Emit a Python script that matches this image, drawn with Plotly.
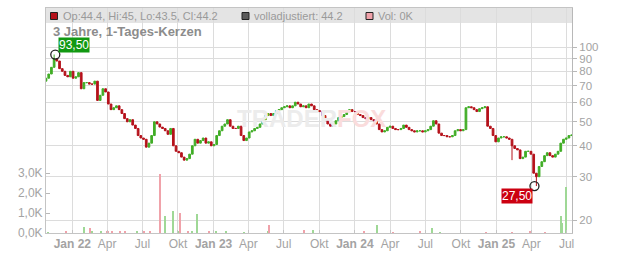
import pandas as pd
import plotly.graph_objects as go

# ---------------- data ----------------
start_date = "2021-10-25"          # first weekly candle
first_open = 73
closes = [
    75, 78, 83, 90, 88, 82, 80, 77, 76, 80,
    75, 76, 79, 68, 72, 72, 71, 71, 73, 61,
    64, 68, 66, 59, 56, 57, 58, 56, 54, 51.5,
    50, 51, 48.5, 47, 44, 43, 42.5, 39.5, 41, 44,
    50, 49, 47.6, 47, 46, 44.5, 47, 40, 38, 37.5,
    36, 35, 35.5, 37, 40, 42.5, 41, 42, 43, 41,
    41.5, 40, 40.5, 44, 46, 48, 49, 51, 48, 47,
    47, 48, 44, 42, 43, 45.5, 46, 47, 47.5, 49,
    51, 53, 54, 53, 54, 55.5, 56, 57, 57.5, 58,
    57, 58, 60, 59, 57.5, 58, 57, 59, 58, 56,
    55.5, 55, 53, 51, 49, 48, 49, 50.5, 52, 52.5,
    53.5, 55, 56, 55, 55, 53.5, 53, 52, 51.5, 52,
    51, 50.5, 49, 46.5, 45.5, 46, 47.5, 48, 47, 46.5,
    46.5, 47, 48.5, 47.5, 46.5, 46, 45.5, 46, 46, 45.5,
    46, 46.5, 48, 50.5, 49, 45, 44, 44, 43.5, 43.5,
    44, 46, 46.5, 46, 46.5, 57, 57.5, 57, 56, 55,
    56.5, 57, 57.5, 48, 47, 44, 41.5, 43, 43.5, 43.5,
    43, 42.5, 40, 39, 38.5, 35.5, 36, 38, 38, 37,
    31, 30, 33, 34.5, 36.5, 37.5, 36.5, 36, 37, 38,
    41, 42.5, 43, 44, 44.2,
]
wick_high = {"2021-11-15": 93.5}
wick_low = {"2025-02-10": 35, "2025-04-14": 27.5}

extreme_dates = ["2021-11-18", "2025-04-09"]
extreme_values = [93.5, 27.5]
extreme_labels = ["93,50", "27,50"]

vol_dates = [
    "2021-10-31", "2021-12-15", "2022-01-31", "2022-02-15", "2022-02-22",
    "2022-03-15", "2022-03-31", "2022-04-04", "2022-04-13", "2022-05-03",
    "2022-05-16", "2022-06-16", "2022-07-06", "2022-07-20", "2022-08-15",
    "2022-08-29", "2022-09-19", "2022-10-04", "2022-10-07", "2022-10-26",
    "2022-11-07", "2022-11-18", "2022-12-19", "2023-01-06", "2023-02-03",
    "2023-03-20", "2023-05-22", "2023-05-23", "2023-08-23", "2023-09-15",
    "2024-01-25", "2024-02-26", "2024-04-08", "2024-06-17", "2024-07-19",
    "2024-08-08", "2024-12-06", "2025-02-10", "2025-03-28", "2025-05-05",
    "2025-06-16", "2025-06-18", "2025-06-30",
]
vol_values = [
    50, 70, 320, 270, 80,
    120, 120, 120, 70, 70,
    70, 70, 70, 70, 2950,
    830, 1120, 120, 1020, 70,
    80, 950, 70, 70, 70,
    50, 120, 420, 150, 150,
    70, 420, 50, 70, 240,
    50, 50, 50, 100, 50,
    830, 500, 2300,
]
vol_up = [
    True, False, True, False, True,
    True, False, False, False, False,
    False, True, False, False, False,
    True, True, True, False, False,
    True, True, False, True, True,
    True, True, False, False, True,
    False, True, False, False, True,
    True, False, False, False, False,
    True, True, True,
]

quarter_ticks = pd.date_range("2022-01-01", "2025-07-01", freq="QS")
month_names = {1: "Jan", 4: "Apr", 7: "Jul", 10: "Okt"}
price_ticks = [20, 30, 40, 50, 60, 70, 80, 90, 100]
vol_ticks = [0, 1000, 2000, 3000]
vol_tick_text = ["0,0K", "1,0K", "2,0K", "3,0K"]

# ---------------- build ----------------
W, H = 632, 253
ML, MR, MT, MB = 46, 60, 8, 20
PW, PH = W - ML - MR, H - MT - MB
FONT = "Liberation Sans, Arial, sans-serif"


def px(x):
    return (x - ML) / PW


def py(y):
    return (H - MB - y) / PH


dates = pd.date_range(start_date, periods=len(closes), freq="7D")
opens = [first_open] + closes[:-1]
highs, lows = [], []
for d, o, c in zip(dates, opens, closes):
    key = d.strftime("%Y-%m-%d")
    highs.append(wick_high.get(key, max(o, c)))
    lows.append(wick_low.get(key, min(o, c)))

RED = "#b5121b"
GREEN = "#40ad26"

fig = go.Figure()

fig.add_trace(go.Bar(
    x=pd.to_datetime(vol_dates), y=vol_values, yaxis="y2",
    marker=dict(color=["#9fd896" if u else "#f0a2aa" for u in vol_up], line=dict(width=0)),
    width=2.6 * 86400000, showlegend=False, hoverinfo="skip",
))

fig.add_trace(go.Candlestick(
    x=dates, open=opens, high=highs, low=lows, close=closes,
    increasing=dict(line=dict(color=GREEN, width=1), fillcolor=GREEN),
    decreasing=dict(line=dict(color=RED, width=1), fillcolor=RED),
    whiskerwidth=0, showlegend=False, hoverinfo="skip",
))

fig.add_trace(go.Scatter(
    x=pd.to_datetime(extreme_dates), y=extreme_values, mode="markers",
    marker=dict(symbol="circle-open", size=9, color="#222222", line=dict(width=1.3)),
    showlegend=False, hoverinfo="skip",
))

grid = "#dcdcdc"
fig.update_layout(
    width=W, height=H,
    margin=dict(l=ML, r=MR, t=MT, b=MB, pad=0, autoexpand=False),
    paper_bgcolor="white", plot_bgcolor="rgba(0,0,0,0)",
    font=dict(family=FONT, size=12, color="#a0a0a0"),
    bargap=0, boxgap=0.1,
    xaxis=dict(
        type="date", range=["2021-10-25", "2025-07-15"], automargin=False,
        rangeslider=dict(visible=False),
        tickvals=list(quarter_ticks),
        ticktext=[(f"<b>Jan {str(d.year)[2:]}</b>" if d.month == 1 else month_names[d.month])
                  for d in quarter_ticks],
        tickfont=dict(size=12, color="#a3a3a3"),
        showgrid=True, gridcolor=grid, gridwidth=1,
        showline=True, linecolor="#c4c4c4", linewidth=1, mirror=True,
        ticks="inside", ticklen=3, tickcolor="#c4c4c4",
        zeroline=False,
    ),
    yaxis=dict(
        type="log", range=[1.2497, 2.1588], side="right", automargin=False,
        tickvals=price_ticks, ticktext=[str(v) for v in price_ticks],
        tickfont=dict(size=11.5, color="#a3a3a3"),
        showgrid=True, gridcolor=grid, gridwidth=1,
        showline=True, linecolor="#b8b8b8", linewidth=1,
        ticks="outside", ticklen=4, tickcolor="#b8b8b8",
        zeroline=False,
    ),
    yaxis2=dict(
        overlaying="y", side="left", range=[0, 11250], automargin=False,
        tickvals=vol_ticks, ticktext=vol_tick_text,
        tickfont=dict(size=12, color="#a3a3a3"),
        showgrid=False, showline=True, linecolor="#c4c4c4", linewidth=1,
        ticks="inside", ticklen=4, tickcolor="#b8b8b8",
        zeroline=False,
    ),
)

# header band
fig.add_shape(type="rect", xref="paper", yref="paper",
              x0=0, x1=1, y0=py(23), y1=py(8),
              fillcolor="#e4e4e4", line=dict(width=0), layer="below")

# legend squares
for x0, col in [(50.5, RED), (242, "#5a5a5a"), (366, "#f0a2aa")]:
    fig.add_shape(type="rect", xref="paper", yref="paper",
                  x0=px(x0), x1=px(x0 + 7), y0=py(19.5), y1=py(12.5),
                  fillcolor=col, line=dict(color="#222222", width=1), layer="above")

ann = [
    dict(text="Op:44.4, Hi:45, Lo:43.5, Cl:44.2", x=px(61), y=py(16)),
    dict(text="volladjustiert: 44.2", x=px(252), y=py(16)),
    dict(text="Vol: 0K", x=px(376), y=py(16)),
]
for a in ann:
    fig.add_annotation(xref="paper", yref="paper", xanchor="left", yanchor="middle",
                       showarrow=False, font=dict(size=11, color="#9a9a9a"), **a)

fig.add_annotation(xref="paper", yref="paper", x=px(51), y=py(31.5),
                   xanchor="left", yanchor="middle", showarrow=False,
                   text="<b>3 Jahre, 1-Tages-Kerzen</b>",
                   font=dict(size=13, color="#8c8c8c"))

# watermark
fig.add_annotation(xref="paper", yref="paper", x=px(311), y=py(118),
                   xanchor="center", yanchor="middle", showarrow=False,
                   text="<b><span style='color:#ececec'>TRADER</span>"
                        "<span style='color:#fadcdc'>FOX</span></b>",
                   font=dict(size=24))

# extreme labels
fig.add_annotation(xref="paper", yref="paper", x=px(73.5), y=py(45.5),
                   xanchor="center", yanchor="middle", showarrow=False,
                   text=extreme_labels[0], bgcolor="#129912", borderpad=0,
                   font=dict(size=12, color="white"))
fig.add_annotation(xref="paper", yref="paper", x=px(517), y=py(196),
                   xanchor="center", yanchor="middle", showarrow=False,
                   text=extreme_labels[1], bgcolor="#cc0011", borderpad=0,
                   font=dict(size=12, color="white"))

fig.write_html("out.html")
